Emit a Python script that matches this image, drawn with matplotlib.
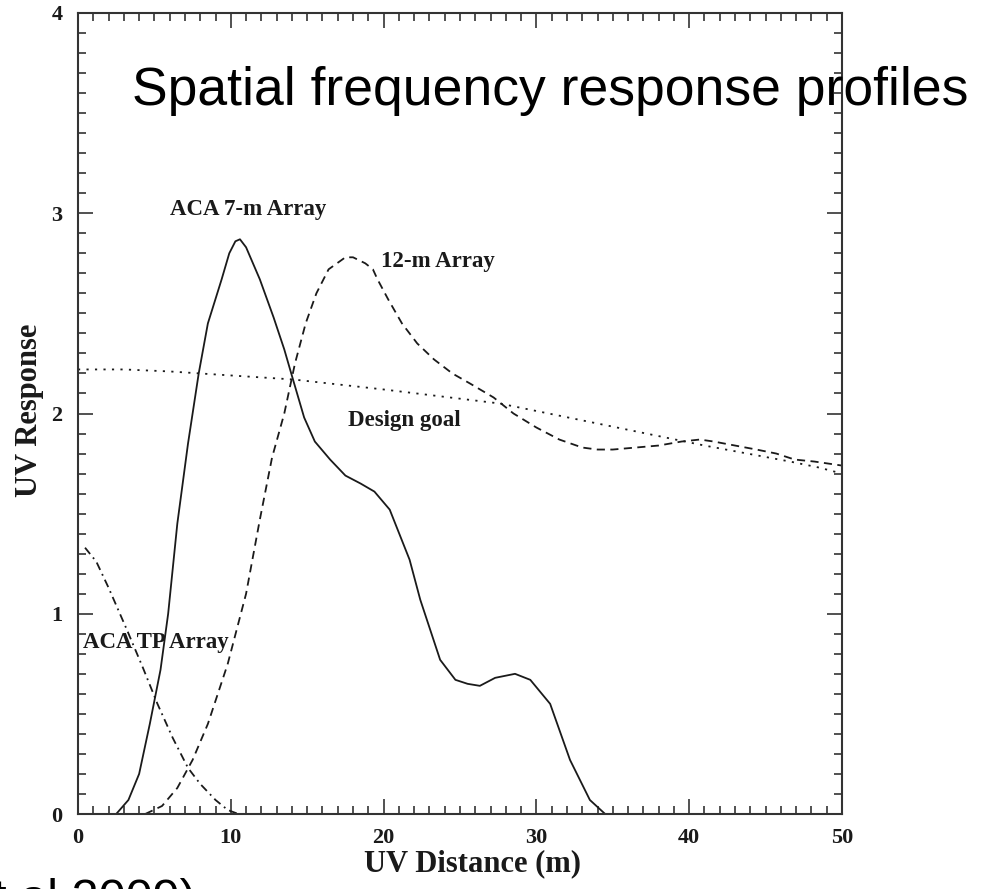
import matplotlib
matplotlib.use("Agg")
import matplotlib.pyplot as plt
from matplotlib.ticker import MultipleLocator

# ACA 7-m Array (solid)
x_7m = [0, 2.5, 3.3, 4.0, 4.7, 5.4, 5.9, 6.5, 7.2, 7.9, 8.5, 9.4, 9.9, 10.3, 10.6, 11.0, 11.9, 12.8,
        13.5, 14.07, 14.8, 15.5, 16.5, 17.5, 18.5, 19.4, 20.4, 21.7, 22.4, 23.7, 24.7, 25.5, 26.3,
        27.3, 28.6, 29.6, 30.9, 32.2, 33.5, 34.5, 37.0]
y_7m = [0, 0, 0.07, 0.2, 0.45, 0.72, 1.0, 1.45, 1.85, 2.2, 2.45, 2.67, 2.8, 2.86, 2.87, 2.83, 2.67, 2.48,
        2.32, 2.17, 1.98, 1.86, 1.77, 1.69, 1.65, 1.61, 1.52, 1.27, 1.07, 0.77, 0.67, 0.65, 0.64,
        0.68, 0.70, 0.67, 0.55, 0.27, 0.07, 0.0, 0.0]

# 12-m Array (dashed)
x_12m = [4.4, 5.5, 6.5, 7.5, 8.5, 9.8, 11.0, 11.9, 12.7, 13.5, 14.2, 14.9, 15.6, 16.4, 16.95, 17.5,
         18.0, 18.8, 19.3, 19.6, 20.3, 21.2, 22.2, 23.3, 24.5, 25.65, 27.2, 28.5, 30.0, 31.5, 33.0,
         34.0, 35.0, 36.5, 38.0, 39.5, 40.7, 41.6, 43.0, 44.4, 45.7, 46.9, 48.2, 50.0]
y_12m = [0.0, 0.04, 0.13, 0.27, 0.45, 0.75, 1.1, 1.47, 1.78, 2.0, 2.25, 2.45, 2.6, 2.72, 2.75, 2.78,
         2.78, 2.75, 2.72, 2.67, 2.57, 2.45, 2.35, 2.27, 2.2, 2.15, 2.08, 2.0, 1.93, 1.87, 1.83,
         1.82, 1.82, 1.83, 1.84, 1.86, 1.87, 1.86, 1.84, 1.82, 1.80, 1.77, 1.76, 1.74]

# Design goal (dotted)
x_goal = [0, 3, 6, 10, 14.07, 20, 27.6, 34, 41, 44.5, 46.6, 48.5, 50]
y_goal = [2.22, 2.22, 2.21, 2.19, 2.17, 2.12, 2.05, 1.95, 1.84, 1.79, 1.76, 1.73, 1.70]

# ACA TP Array (dash-dot)
x_tp = [0.46, 1.2, 2.0, 3.2, 4.25, 5.2, 6.2, 7.2, 8.0, 9.0, 9.8, 10.5, 12.0]
y_tp = [1.33, 1.26, 1.13, 0.92, 0.73, 0.55, 0.38, 0.23, 0.15, 0.07, 0.02, 0.0, 0.0]

xticks = [0, 10, 20, 30, 40, 50]
yticks = [0, 1, 2, 3, 4]

W, H = 987, 889
fig = plt.figure(figsize=(W / 100, H / 100), dpi=100)
ax = fig.add_axes([78 / W, (H - 814) / H, 764 / W, 801 / H])

lc = "#1a1a1a"
ax.plot(x_7m, y_7m, color=lc, lw=1.3, ls="-")
ax.plot(x_12m, y_12m, color=lc, lw=1.3, ls=(0, (4.5, 3)))
ax.plot(x_goal, y_goal, color=lc, lw=1.3, ls=(0, (1.2, 3.5)))
ax.plot(x_tp, y_tp, color=lc, lw=1.3, ls=(0, (4.5, 2.5, 1, 2.5)))

ax.set_xlim(0, 50)
ax.set_ylim(0, 4)
ax.set_xticks(xticks)
ax.set_yticks(yticks)
ax.xaxis.set_minor_locator(MultipleLocator(1))
ax.yaxis.set_minor_locator(MultipleLocator(0.1))
ax.tick_params(which="both", direction="in", top=True, right=True, width=1.2, colors="#333333")
ax.tick_params(which="major", length=11)
ax.tick_params(which="minor", length=5.5)
for s in ax.spines.values():
    s.set_linewidth(1.5)
    s.set_color("#333333")

serif = ["Liberation Serif", "DejaVu Serif"]
for lab in ax.get_xticklabels() + ax.get_yticklabels():
    lab.set_fontfamily(serif)
    lab.set_fontweight("bold")
    lab.set_fontsize(16)
    lab.set_color("#1a1a1a")
ax.tick_params(axis="x", pad=10)
ax.tick_params(axis="y", pad=11)

ax.set_xlabel("UV Distance (m)", fontfamily=serif, fontweight="bold", fontsize=22, color="#1a1a1a")
ax.xaxis.set_label_coords((473 - 78) / 764, -(849 - 814) / 801)
ax.set_ylabel("UV Response", fontfamily=serif, fontweight="bold", fontsize=22, color="#1a1a1a")
ax.yaxis.set_label_coords(-(78 - 44) / 764, (814 - 410) / 801)

lab_kw = dict(fontfamily=serif, fontweight="bold", fontsize=16.5, color="#1a1a1a")
ax.text(6.0, 3.03, "ACA 7-m Array", ha="left", va="center_baseline", **lab_kw)
ax.text(19.8, 2.77, "12-m Array", ha="left", va="center_baseline", **lab_kw)
ax.text(17.67, 1.98, "Design goal", ha="left", va="center_baseline", **lab_kw)
ax.text(0.33, 0.87, "ACA TP Array", ha="left", va="center_baseline", **lab_kw)

sans = ["Liberation Sans", "DejaVu Sans"]
fig.text(132 / W, 1 - 105 / H, "Spatial frequency response profiles", ha="left", va="baseline",
         fontfamily=sans, fontsize=38.5, color="black")
fig.text(196 / W, 1 - 913 / H, "et al 2009)", ha="right", va="baseline",
         fontfamily=sans, fontsize=35, color="black")

fig.savefig("out.png", dpi=100)
